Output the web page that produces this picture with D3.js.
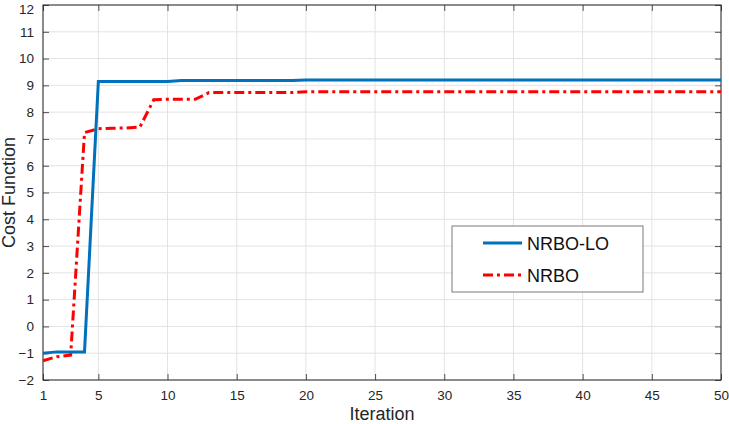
<!DOCTYPE html>
<html>
<head>
<meta charset="utf-8">
<script src="https://cdn.jsdelivr.net/npm/d3@7"></script>
<style>
  body { margin: 0; background: #fff; }
  svg { display: block; font-family: 'Liberation Sans', Arial, sans-serif; }
</style>
</head>
<body>
<svg id="chart" width="729" height="424"></svg>
<script>
// values, iterations 1..50
const nrboLo = [
  -1.00, -0.95, -0.95, -0.95, 9.14, 9.14, 9.14, 9.14, 9.14, 9.14,
  9.18, 9.18, 9.18, 9.18, 9.18, 9.18, 9.18, 9.18, 9.18, 9.20,
  9.20, 9.20, 9.20, 9.20, 9.20, 9.20, 9.20, 9.20, 9.20, 9.20,
  9.20, 9.20, 9.20, 9.20, 9.20, 9.20, 9.20, 9.20, 9.20, 9.20,
  9.20, 9.20, 9.20, 9.20, 9.20, 9.20, 9.20, 9.20, 9.20, 9.20
]
const nrbo = [
  -1.28, -1.13, -1.07, 7.24, 7.38, 7.40, 7.41, 7.44, 8.46, 8.48,
  8.48, 8.48, 8.73, 8.73, 8.73, 8.73, 8.73, 8.73, 8.73, 8.76,
  8.76, 8.76, 8.76, 8.76, 8.76, 8.76, 8.76, 8.76, 8.76, 8.76,
  8.76, 8.76, 8.76, 8.76, 8.76, 8.76, 8.76, 8.76, 8.76, 8.76,
  8.76, 8.76, 8.76, 8.76, 8.76, 8.76, 8.76, 8.76, 8.76, 8.76
]
const xTicks = [1, 5, 10, 15, 20, 25, 30, 35, 40, 45, 50]
const yTicks = [-2, -1, 0, 1, 2, 3, 4, 5, 6, 7, 8, 9, 10, 11, 12]
const seriesNames = ['NRBO-LO', 'NRBO']

const svg = d3.select('#chart')
const plotLeft = 43
const plotRight = 721
const plotTop = 5
const plotBottom = 380

const x = d3.scaleLinear().domain([1, 50]).range([plotLeft, plotRight])
const y = d3.scaleLinear().domain([-2, 12]).range([plotBottom, plotTop])

const axisColor = '#262626'

// grid
const grid = svg.append('g')
grid.selectAll('.gx')
  .data(xTicks)
  .enter().append('line')
  .attr('x1', d => x(d)).attr('x2', d => x(d))
  .attr('y1', plotTop).attr('y2', plotBottom)
  .attr('stroke', '#e3e3e3').attr('stroke-width', 1)
grid.selectAll('.gy')
  .data(yTicks)
  .enter().append('line')
  .attr('x1', plotLeft).attr('x2', plotRight)
  .attr('y1', d => y(d)).attr('y2', d => y(d))
  .attr('stroke', '#e3e3e3').attr('stroke-width', 1)

// axes (MATLAB style, ticks inward on every side)
svg.append('g')
  .attr('transform', `translate(0,${plotBottom})`)
  .call(d3.axisBottom(x).tickValues(xTicks).tickSizeInner(-6).tickSizeOuter(0).tickPadding(10))
  .call(g => g.select('.domain').remove())
const yAxisG = svg.append('g')
  .attr('transform', `translate(${plotLeft},0)`)
  .call(d3.axisLeft(y).tickValues(yTicks).tickSizeInner(-6).tickSizeOuter(0).tickPadding(9))
  .call(g => g.select('.domain').remove())
svg.append('g')
  .attr('transform', `translate(0,${plotTop})`)
  .call(d3.axisTop(x).tickValues(xTicks).tickSizeInner(-6).tickSizeOuter(0).tickFormat(''))
  .call(g => g.select('.domain').remove())
svg.append('g')
  .attr('transform', `translate(${plotRight},0)`)
  .call(d3.axisRight(y).tickValues(yTicks).tickSizeInner(-6).tickSizeOuter(0).tickFormat(''))
  .call(g => g.select('.domain').remove())

svg.selectAll('.tick line').attr('stroke', axisColor).attr('stroke-width', 0.8)
svg.selectAll('.tick text')
  .attr('fill', axisColor)
  .style('font-size', '13.5px')
  .style('font-family', "'Liberation Sans', Arial, sans-serif")

// keep the top label inside the canvas
yAxisG.selectAll('.tick text')
  .filter(d => d === 12)
  .attr('dy', '0.62em')

svg.append('rect')
  .attr('x', plotLeft).attr('y', plotTop)
  .attr('width', plotRight - plotLeft).attr('height', plotBottom - plotTop)
  .attr('fill', 'none').attr('stroke', axisColor).attr('stroke-width', 1)

// lines
const line = d3.line()
  .x((d, i) => x(i + 1))
  .y(d => y(d))

svg.append('path')
  .datum(nrbo)
  .attr('d', line)
  .attr('fill', 'none')
  .attr('stroke', '#ff0000')
  .attr('stroke-width', 3)
  .attr('stroke-dasharray', '10,4,3,4')

svg.append('path')
  .datum(nrboLo)
  .attr('d', line)
  .attr('fill', 'none')
  .attr('stroke', '#0072bd')
  .attr('stroke-width', 3)

// labels
svg.append('text')
  .attr('x', (plotLeft + plotRight) / 2)
  .attr('y', 420)
  .attr('text-anchor', 'middle')
  .attr('fill', axisColor)
  .style('font-size', '18px')
  .text('Iteration')

svg.append('text')
  .attr('transform', `translate(15,${(plotTop + plotBottom) / 2}) rotate(-90)`)
  .attr('text-anchor', 'middle')
  .attr('fill', axisColor)
  .style('font-size', '18px')
  .text('Cost Function')

// legend
const legend = svg.append('g')
legend.append('rect')
  .attr('x', 452).attr('y', 226)
  .attr('width', 191).attr('height', 66)
  .attr('fill', '#fff').attr('stroke', '#7a7a7a').attr('stroke-width', 1)

const legendStyles = [
  { color: '#0072bd', dash: null },
  { color: '#ff0000', dash: '10,4,3,4' }
]
seriesNames.forEach((name, i) => {
  const ly = 243 + i * 32
  legend.append('line')
    .attr('x1', 483).attr('x2', 522)
    .attr('y1', ly).attr('y2', ly)
    .attr('stroke', legendStyles[i].color)
    .attr('stroke-width', 3)
    .attr('stroke-dasharray', legendStyles[i].dash)
  legend.append('text')
    .attr('x', 527)
    .attr('y', ly + 6.5)
    .attr('fill', '#111')
    .style('font-size', '18px')
    .text(name)
})
</script>
</body>
</html>
